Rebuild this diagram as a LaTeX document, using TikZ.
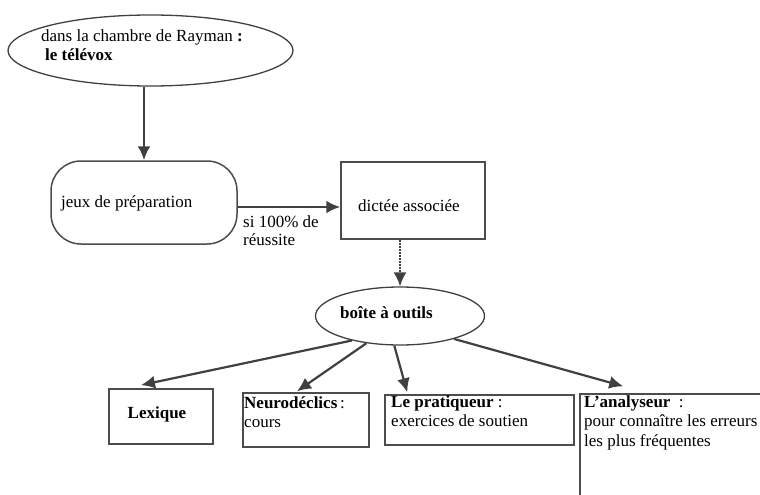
\documentclass[tikz,border=0pt]{standalone}
\usepackage{fontspec}
\setmainfont{Liberation Serif}
\usetikzlibrary{shapes.geometric,arrows.meta}

\begin{document}
\begin{tikzpicture}[x=1pt,y=-1pt,>={Latex[length=14pt,width=13pt]},
  every node/.style={font=\fontsize{17}{19}\selectfont},
  legende/.style={inner sep=0pt,anchor=base west},
  bulle/.style={draw=black!75,line width=1.3pt,ellipse,inner sep=0pt},
  cadre/.style={draw=black!70,line width=1.5pt,rectangle,inner sep=0pt},
  lien/.style={->,draw=black!75,line width=2.6pt}]
\clip (0,0) rectangle (760,495);

\node[bulle, minimum width=285pt, minimum height=71pt] (televox) at (150.5,50.5) {};
\node[legende] (tv1) at (41,42) {dans la chambre de Rayman \textbf{:}};
\node[legende] (tv2) at (45,60) {\textbf{le télévox}};

\node[cadre, rounded corners=30pt, minimum width=186pt, minimum height=83pt] (jeux) at (144,202.5) {};
\node[legende] (jeuxtxt) at (61,207) {jeux de préparation};

\node[cadre, minimum width=144pt, minimum height=77pt] (dictee) at (413,200.5) {};
\node[legende] (dicteetxt) at (358,211) {dictée associée};

\node[legende] (si1) at (243,227) {si 100\% de};
\node[legende] (si2) at (243,245) {réussite};

\node[bulle, minimum width=169pt, minimum height=58pt] (boite) at (400,316) {};
\node[legende] (boitetxt) at (340,318) {\textbf{boîte à outils}};

% la boite a outils
\node[cadre, line width=1.8pt, minimum width=104pt, minimum height=55pt] (lexique) at (161,416.5) {};
\node[inner sep=0pt, anchor=base] (lextxt) at (157,418) {\textbf{Lexique}};

\node[cadre, minimum width=126pt, minimum height=54pt] (neuro) at (306,420) {};
\node[legende] (neuro1) at (244,408) {\textbf{Neurodéclics}\,:};
\node[legende] (neuro2) at (244,427) {cours};

\node[cadre, minimum width=189pt, minimum height=50pt] (prat) at (479.5,420) {};
\node[legende] (prat1) at (391,407) {\textbf{Le pratiqueur} :};
\node[legende] (prat2) at (391,426) {exercices de soutien};

\node[cadre, minimum width=220pt, minimum height=150pt] (ana) at (690,469) {};
\node[legende] (ana1) at (584,407) {\textbf{L’analyseur}\ \ :};
\node[legende] (ana2) at (584,426) {pour connaître les erreurs};
\node[legende] (ana3) at (584,446) {les plus fréquentes};

\draw[lien] (televox.south -| jeux.north) -- (jeux.north);
\draw[lien] ([yshift=-4.5pt]jeux.east) -- ([yshift=-4.5pt]jeux.east -| dictee.west);
\draw[lien, line width=2pt, densely dotted] (dictee.south -| boite.north) -- (boite.north);

\draw[lien, line width=2.2pt] (boite.207) -- ([shift={(-20pt,3pt)}]lexique.north);
\draw[lien, line width=2.2pt] (boite.219) -- ([shift={(-9pt,1pt)}]neuro.north);
\draw[lien, line width=2.2pt] (boite.259) -- ([shift={(23pt,2pt)}]prat.north west);
\draw[lien, line width=2.2pt] (boite.337) -- ([shift={(44pt,7pt)}]ana.north west);
\end{tikzpicture}
\end{document}
